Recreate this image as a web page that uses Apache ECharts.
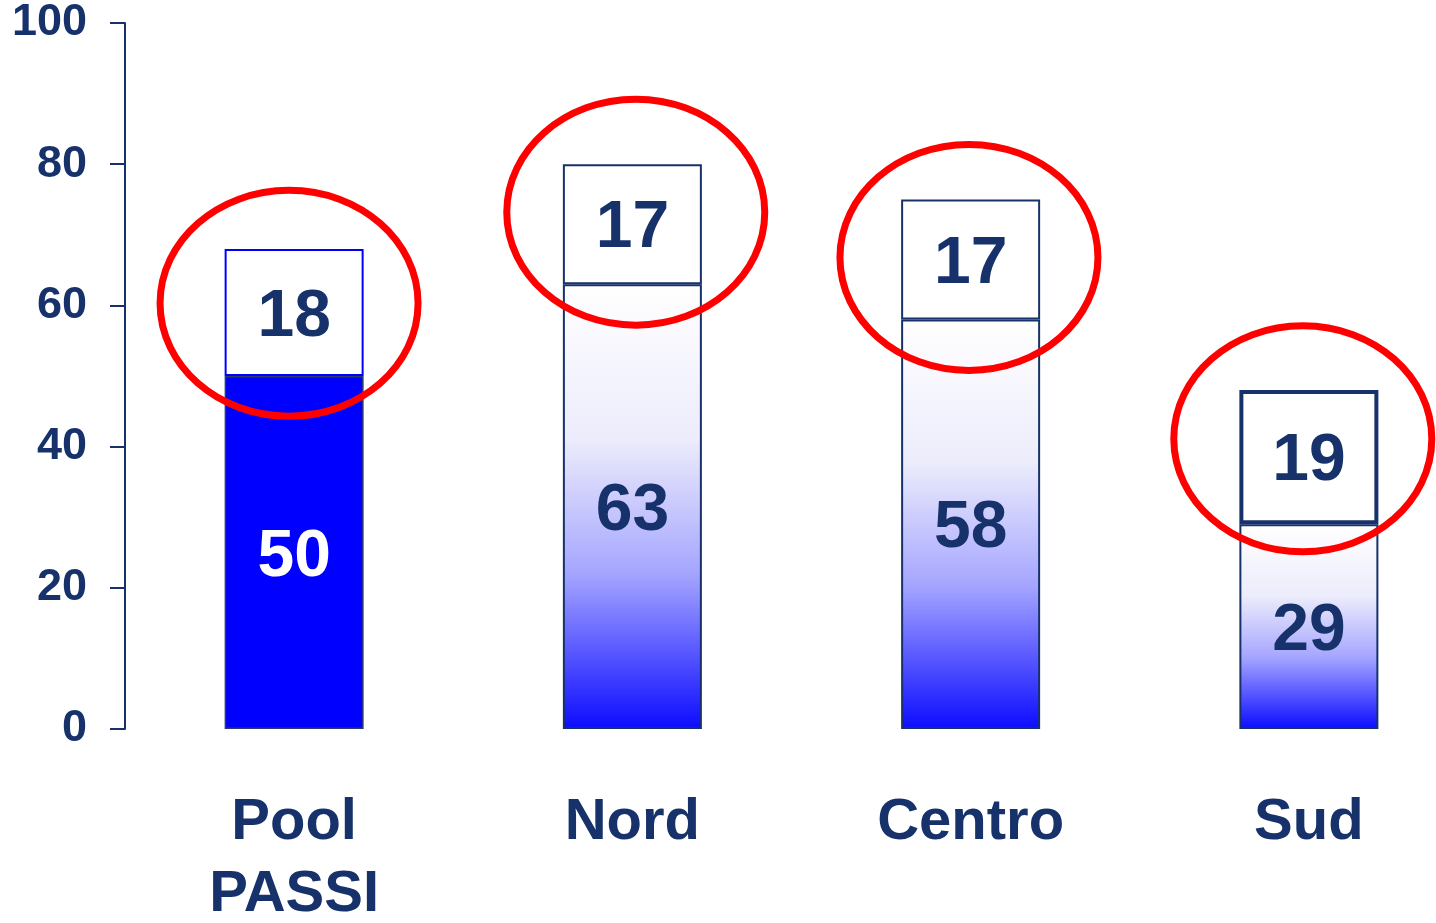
<!DOCTYPE html>
<html><head><meta charset="utf-8">
<script src="https://cdn.jsdelivr.net/npm/echarts@6/dist/echarts.min.js"></script>
<style>html,body{margin:0;padding:0;background:#fff;overflow:hidden}#c{width:1436px;height:923px}</style>
</head><body><div id="c"></div>
<script>
const categories = ['Pool\nPASSI', 'Nord', 'Centro', 'Sud'];
const baseValues = [50, 63, 58, 29];
const topValues = [18, 17, 17, 19];
const ringCenterY = [60.3, 73.2, 66.8, 41.1];
const ringOffsetX = [-0.015, 0.01, -0.005, -0.018];
const yTicks = [0, 20, 40, 60, 80, 100];

const NAVY = '#17326B';
const grad = {type:'linear',x:0,y:0,x2:0,y2:1,colorStops:[
  {offset:0,color:'#ffffff'},{offset:0.35,color:'#ececfc'},{offset:0.65,color:'#a5a5ff'},{offset:1,color:'#0c0cff'}]};

const chart = echarts.init(document.getElementById('c'));
chart.setOption({
  animation:false,
  grid:{left:125,right:-42,top:23,bottom:194,containLabel:false,outerBoundsMode:'none'},
  xAxis:{type:'category',data:categories,axisLine:{show:false},axisTick:{show:false},
    axisLabel:{margin:58,fontFamily:'Liberation Sans, Arial',fontWeight:'bold',fontSize:58,color:NAVY,lineHeight:72}},
  yAxis:{type:'value',min:yTicks[0],max:yTicks[yTicks.length-1],interval:20,splitLine:{show:false},
    axisLine:{show:true,lineStyle:{color:NAVY,width:2}},
    axisTick:{show:true,length:15,lineStyle:{color:NAVY,width:2}},
    axisLabel:{margin:38,fontFamily:'Liberation Sans, Arial',fontWeight:'bold',fontSize:45,color:NAVY,padding:[6,0,0,0]}},
  series:[
    {type:'bar',stack:'s',barWidth:139,
     data:baseValues.map((v,i)=>({value:v,
       itemStyle: i===0 ? {color:'#0000ff',borderColor:'#2a3a70',borderWidth:1.5} : {color:grad,borderColor:NAVY,borderWidth:2},
       label:{color: i===0 ? '#ffffff' : NAVY}})),
     label:{show:true,position:'inside',offset:[0,5],fontFamily:'Liberation Sans, Arial',fontWeight:'bold',fontSize:66}},
    {type:'bar',stack:'s',barWidth:139,
     data:topValues.map((v,i)=>({value:v,
       itemStyle:{color:'#ffffff',borderColor: i===0 ? '#0000ff' : NAVY, borderWidth: i===3 ? 4 : 2}})),
     label:{show:true,position:'inside',offset:[0,5],color:NAVY,fontFamily:'Liberation Sans, Arial',fontWeight:'bold',fontSize:66}},
    {type:'custom',z:10,silent:true,
     data:ringCenterY.map((y,i)=>[i,y,ringOffsetX[i]]),
     renderItem:function(params,api){
       const p = api.coord([api.value(0),api.value(1)]);
       const band = api.size([1,0])[0];
       return {type:'ellipse',shape:{cx:p[0]+api.value(2)*band,cy:p[1],rx:129,ry:113},
         style:{fill:null,stroke:'#ff0000',lineWidth:7}};
     }}
  ]
});
</script></body></html>
